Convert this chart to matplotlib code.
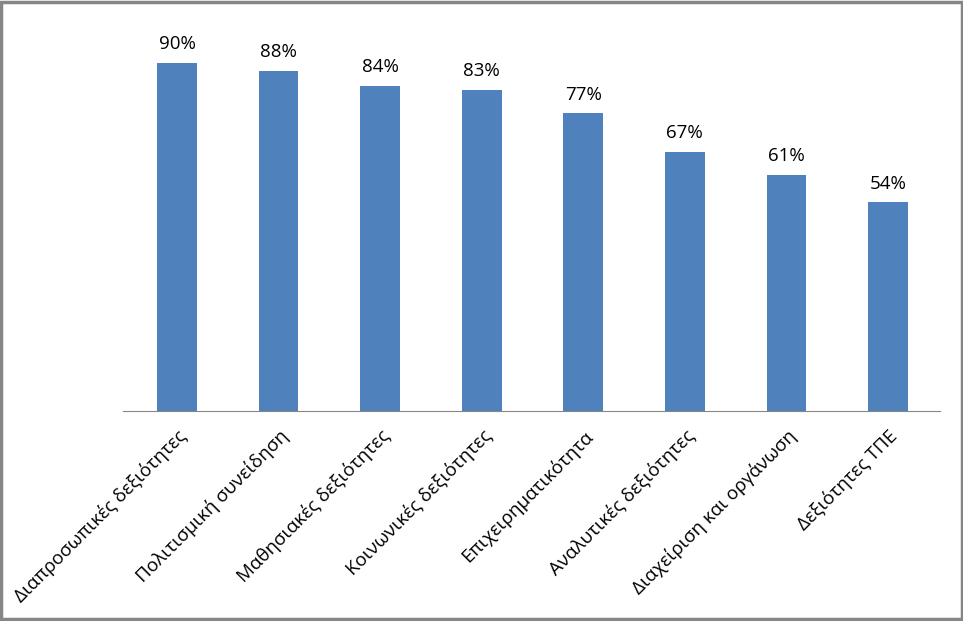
import numpy as np
import matplotlib
import matplotlib.pyplot as plt
matplotlib.use('Agg')

# categories and shares
skills = ['Διαπροσωπικές δεξιότητες', 'Πολιτισμική συνείδηση', 'Μαθησιακές δεξιότητες',
          'Κοινωνικές δεξιότητες', 'Επιχειρηματικότητα', 'Αναλυτικές δεξιότητες',
          'Διαχείριση και οργάνωση', 'Δεξιότητες ΤΠΕ']
shares = [0.90, 0.88, 0.84, 0.83, 0.77, 0.67, 0.61, 0.54]

plt.rcParams['font.family'] = ['Open Sans', 'DejaVu Sans']

fig = plt.figure(figsize=(9.63, 6.21), dpi=100)
ax = fig.add_axes([123 / 963, 0.338, 817 / 963, 0.623])

x = np.arange(len(skills))
bars = ax.bar(x, shares, width=0.39, color='#4F81BD')

for b, v in zip(bars, shares):
    ax.text(b.get_x() + b.get_width() / 2, v + 0.025, f'{v:.0%}',
            ha='center', va='bottom', fontsize=13.5, color='black')

ax.set_xlim(-0.532, 7.512)
ax.set_ylim(0, 1.0)
ax.set_yticks([])
ax.set_xticks(x)
ax.set_xticklabels(skills, rotation=45, ha='right', rotation_mode='anchor', fontsize=13.5)
ax.tick_params(axis='x', length=0, pad=11)
for side in ['top', 'right', 'left']:
    ax.spines[side].set_visible(False)
ax.spines['bottom'].set_color('#868686')

# grey frame around the whole picture
fig.patches.append(plt.Rectangle((0.0015, 0.0025), 0.997, 0.995, transform=fig.transFigure,
                                 fill=False, edgecolor='#868686', linewidth=2.5))

fig.savefig('out.png', dpi=100)
